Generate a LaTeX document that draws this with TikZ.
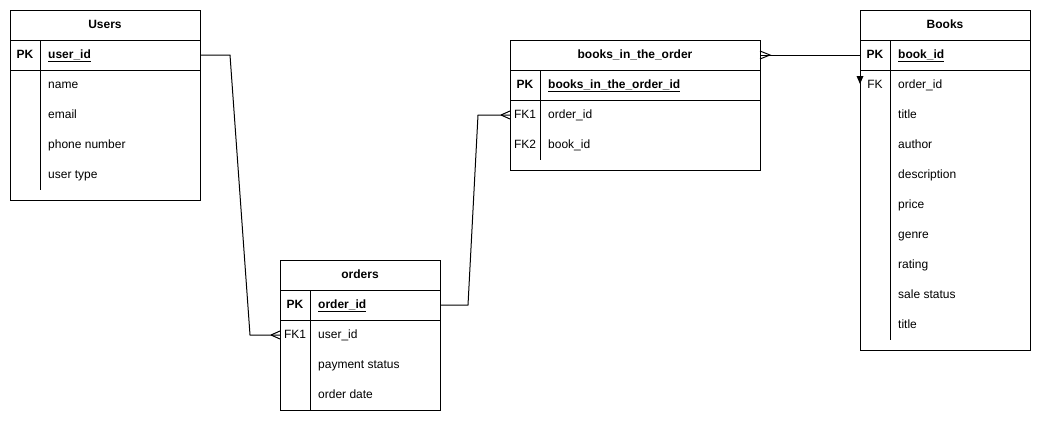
\documentclass[tikz,border=0pt]{standalone}
\usepackage{fontspec}
\setmainfont{Liberation Sans}
\usetikzlibrary{calc}
\tikzset{
  txt/.style={font=\fontsize{12}{14}\selectfont, inner sep=0pt, text height=8.6pt, text depth=2.5pt},
  tbl/.style={draw, line width=1pt, anchor=north west, inner sep=0pt, outer sep=0pt},
  hdr/.style={txt, font=\fontsize{12}{14}\selectfont\bfseries},
  keyl/.style={txt, font=\fontsize{12}{14}\selectfont\bfseries},
  fkl/.style={txt},
  fld/.style={txt, anchor=west},
  pkf/.style={txt, font=\fontsize{12}{14}\selectfont\bfseries, anchor=west},
  sep/.style={line width=1pt},
  rel/.style={draw, line width=1pt, line join=miter},
  crowL/.pic={\draw[rel] (-9,0) -- (0,-4) (-9,0) -- (0,4);},
  crowR/.pic={\draw[rel] (0,-4) -- (10,0) -- (0,4);},
}
\begin{document}
\begin{tikzpicture}[x=1pt,y=-1pt]
\useasboundingbox (0,0) rectangle (1041,421);
\fill[white] (0,0) rectangle (1041,421);

% ---------- Users ----------
\node[tbl, minimum width=190pt, minimum height=190pt] (users) at (10,10) {};
\draw[sep] (10,40) -- (200,40);
\draw[sep] (10,70) -- (200,70);
\draw[sep] (40,40) -- (40,190);
\node[hdr] (usersT) at (105,25) {Users};
\node[keyl] (uPK) at (25,55) {PK};
\node[pkf] (uid) at (48,55) {\underline{user\_id}};
\node[fld] (uname) at (48,85) {name};
\node[fld] (uemail) at (48,115) {email};
\node[fld] (uphone) at (48,145) {phone number};
\node[fld] (utype) at (48,175) {user type};

% ---------- orders ----------
\node[tbl, minimum width=160pt, minimum height=150pt] (orders) at (280,260) {};
\draw[sep] (280,290) -- (440,290);
\draw[sep] (280,320) -- (440,320);
\draw[sep] (310,290) -- (310,410);
\node[hdr] (ordersT) at (360,275) {orders};
\node[keyl] (oPK) at (295,305) {PK};
\node[pkf] (oid) at (318,305) {\underline{order\_id}};
\node[fkl] (oFK1) at (295,335) {FK1};
\node[fld] (ouid) at (318,335) {user\_id};
\node[fld] (opay) at (318,365) {payment status};
\node[fld] (odate) at (318,395) {order date};

% ---------- books_in_the_order ----------
\node[tbl, minimum width=250pt, minimum height=130pt] (bito) at (510,40) {};
\draw[sep] (510,70) -- (760,70);
\draw[sep] (510,100) -- (760,100);
\draw[sep] (540,70) -- (540,160);
\node[hdr] (bitoT) at (635,55) {books\_in\_the\_order};
\node[keyl] (bPK) at (525,85) {PK};
\node[pkf] (bid) at (548,85) {\underline{books\_in\_the\_order\_id}};
\node[fkl] (bFK1) at (525,115) {FK1};
\node[fld] (boid) at (548,115) {order\_id};
\node[fkl] (bFK2) at (525,145) {FK2};
\node[fld] (bbid) at (548,145) {book\_id};

% ---------- Books ----------
\node[tbl, minimum width=170pt, minimum height=340pt] (books) at (860,10) {};
\draw[sep] (860,40) -- (1030,40);
\draw[sep] (860,70) -- (1030,70);
\draw[sep] (890,40) -- (890,340);
\node[hdr] (booksT) at (945,25) {Books};
\node[keyl] (kPK) at (875,55) {PK};
\node[pkf] (kid) at (898,55) {\underline{book\_id}};
\node[fkl] (kFK) at (875,85) {FK};
\node[fld] (koid) at (898,85) {order\_id};
\node[fld] (ktitle) at (898,115) {title};
\node[fld] (kauthor) at (898,145) {author};
\node[fld] (kdesc) at (898,175) {description};
\node[fld] (kprice) at (898,205) {price};
\node[fld] (kgenre) at (898,235) {genre};
\node[fld] (krating) at (898,265) {rating};
\node[fld] (ksale) at (898,295) {sale status};
\node[fld] (ktitle2) at (898,325) {title};

% ---------- connectors ----------
\draw[rel] (users.east |- uPK) -- (230,55) -- (250,335) -- (orders.west |- oFK1);
\pic at (orders.west |- oFK1) {crowL};

\draw[rel] (orders.east |- oPK) -- (468,305) -- (478,115) -- (bito.west |- bFK1);
\pic at (bito.west |- bFK1) {crowL};

\draw[rel] (bito.east |- bitoT) -- (books.west |- kPK);
\pic at (bito.east |- bitoT) {crowR};

\coordinate (tip) at (books.west |- kFK);
\fill ($(tip)+(-3.5,-9)$) -- ($(tip)+(3.5,-9)$) -- ($(tip)+(0,-1)$) -- cycle;
\end{tikzpicture}
\end{document}
